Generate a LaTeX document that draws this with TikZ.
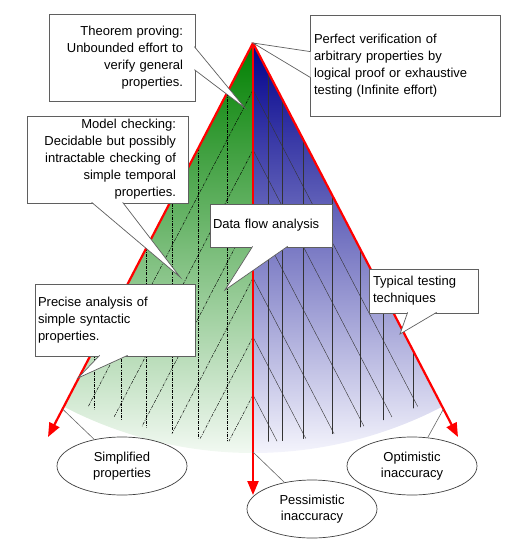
\documentclass[tikz,border=0pt]{standalone}
\usepackage{fontspec}
\setmainfont{Liberation Sans}
\usetikzlibrary{arrows.meta,shapes.geometric,calc}

\definecolor{conegreen}{RGB}{0,128,0}
\definecolor{conegreenmid}{RGB}{92,172,92}
\definecolor{conegreenlow}{RGB}{242,249,242}
\definecolor{coneblue}{RGB}{0,0,140}
\definecolor{conebluemid}{RGB}{92,92,182}
\definecolor{conebluelow}{RGB}{244,244,252}
\definecolor{framegray}{RGB}{95,95,95}

\begin{document}
\begin{tikzpicture}[x=1pt,y=-1pt]

    \tikzstyle{callout}=[draw=framegray, line width=0.7pt, fill=white, inner sep=0pt, font=\fontsize{13}{17}\selectfont]
    \tikzstyle{wedge}=[draw=framegray, line width=0.7pt, fill=white]
    \tikzstyle{oval}=[ellipse, draw=black!75, line width=0.7pt, fill=white, inner sep=0pt, minimum width=130pt, minimum height=58pt, align=center, font=\fontsize{13}{16}\selectfont]
    \tikzstyle{edge}=[draw=red, line width=2.2pt, -{Triangle[length=14pt,width=11pt]}]
    \tikzstyle{pin}=[draw=black!60, line width=0.6pt]
    \tikzstyle{hatchg}=[line width=0.45pt, dash pattern=on 3pt off 1.2pt on 0.8pt off 1.2pt]
    \tikzstyle{hatchb}=[line width=0.4pt, draw=black!80]

    \useasboundingbox (0,0) rectangle (507,545);

    \coordinate (apex) at (253,43);
    \coordinate (ltip) at (48,437);
    \coordinate (rtip) at (458,437);
    \coordinate (mtip) at (253,495);

    % shaded cone
    \shade[top color=conegreen, middle color=conegreenmid, bottom color=conegreenlow]
        (apex) -- ++(117.5:410) arc[start angle=117.5, end angle=90, radius=410] -- cycle;
    \shade[top color=coneblue, middle color=conebluemid, bottom color=conebluelow]
        (apex) -- ++(90:410) arc[start angle=90, end angle=62.5, radius=410] -- cycle;

    \begin{scope}
        \clip (apex) -- ++(117.5:399) arc[start angle=117.5, end angle=62.5, radius=399] -- cycle;
        \draw[hatchg] (227,43) -- (227,460) (198,43) -- (198,460) (172,43) -- (172,460)
            (146,43) -- (146,460) (121,43) -- (121,460) (94,43) -- (94,460);
        \draw[hatchg] (253,90) -- ++(-205,394) (253,150) -- ++(-205,394) (253,213) -- ++(-205,394)
            (253,278) -- ++(-205,394) (253,337) -- ++(-205,394) (253,395) -- ++(-205,394);
        \draw[hatchb] (268,43) -- (268,460) (282,43) -- (282,460) (303,43) -- (303,460)
            (332,43) -- (332,460) (360,43) -- (360,460) (383,43) -- (383,460) (413,43) -- (413,460);
        \draw[hatchb] (253,90) -- ++(205,394) (253,150) -- ++(205,394) (253,213) -- ++(205,394)
            (253,278) -- ++(205,394) (253,337) -- ++(205,394) (253,395) -- ++(205,394);
    \end{scope}

    \draw[edge] (apex) -- (ltip);
    \draw[edge] (apex) -- (rtip);
    \draw[edge] (apex) -- (mtip);

    \coordinate (lfoot) at ($(apex)!0.929!(ltip)$);
    \coordinate (mfoot) at ($(apex)!0.905!(mtip)$);
    \coordinate (rfoot) at ($(apex)!0.929!(rtip)$);

    % callouts
    \node[callout, minimum width=146pt, minimum height=87pt, text width=122pt, align=right] (thm) at (122,57.5)
        {Theorem proving:\\Unbounded effort to\\verify general\\properties.};
    \draw[wedge] ($(thm.north east)+(-1,33)$) -- (245,108) coordinate (thmtip) -- ($(thm.north east)+(-1,56)$);

    \node[callout, minimum width=190pt, minimum height=101pt, text width=182pt, align=left] (perfect) at (405,65.5)
        {Perfect verification of\\arbitrary properties by\\logical proof or exhaustive\\testing (Infinite effort)};
    \draw[wedge] ($(perfect.north west)+(1,37)$) -- (apex) -- ($(perfect.north west)+(1,63)$);

    \node[callout, minimum width=161pt, minimum height=87pt, text width=137pt, align=right] (model) at (107.5,159.5)
        {Model checking:\\Decidable but possibly\\intractable checking of\\simple temporal\\properties.};
    \draw[wedge] ($(model.south west)+(65,-1)$) -- (180,277) coordinate (modeltip) -- ($(model.south west)+(96,-1)$);

    \node[callout, minimum width=122pt, minimum height=43pt, text width=116pt, align=left] (dataflow) at (271,225.5)
        {Data flow analysis};
    \draw[wedge] ($(dataflow.south west)+(43,-1)$) -- (225,290) coordinate (dataflowtip) -- ($(dataflow.south west)+(78,-1)$);

    \node[callout, minimum width=160pt, minimum height=72pt, text width=154pt, align=left] (precise) at (115,320)
        {Precise analysis of\\simple syntactic\\properties.};
    \draw[wedge] ($(precise.south west)+(65,-1)$) -- (78,378) coordinate (precisetip) -- ($(precise.south west)+(93,-1)$);

    \node[callout, minimum width=109pt, minimum height=44pt, text width=101pt, align=left] (typical) at (423.5,291)
        {Typical testing\\techniques};
    \draw[wedge] ($(typical.south west)+(39,-1)$) -- (400,334) coordinate (typicaltip) -- ($(typical.south west)+(68,-1)$);

    % outcomes
    \node[oval] (simplified) at (122,466) {Simplified\\properties};
    \node[oval] (pessimistic) at (312,509) {Pessimistic\\inaccuracy};
    \node[oval] (optimistic) at (412,466) {Optimistic\\inaccuracy};

    \draw[pin] (lfoot) -- (simplified);
    \draw[pin] (mfoot) -- (pessimistic);
    \draw[pin] (rfoot) -- (optimistic);

\end{tikzpicture}
\end{document}
